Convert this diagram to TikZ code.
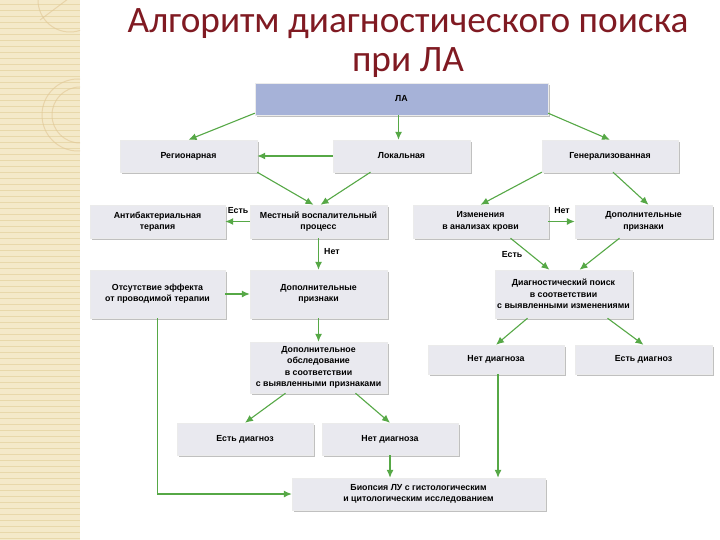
\documentclass[tikz,border=0pt]{standalone}
\usepackage{fontspec}
\setmainfont{Liberation Sans}
\newfontfamily\titlefont{Carlito}
\usetikzlibrary{shadows,calc,arrows.meta}
\definecolor{arrowgreen}{RGB}{86,168,70}
\definecolor{boxgray}{RGB}{233,233,239}
\definecolor{topblue}{RGB}{166,178,216}
\definecolor{titlered}{RGB}{128,26,34}
\definecolor{stripbeige}{RGB}{244,233,201}
\definecolor{stripline}{RGB}{232,216,170}
\tikzset{
  box/.style={rectangle, fill=boxgray, draw=black!8, line width=0.4pt, align=center, inner sep=1pt,
    font=\bfseries\fontsize{8.8}{11.3}\selectfont,
    drop shadow={shadow xshift=1.8pt, shadow yshift=-1.8pt, fill=black!35, opacity=0.7}},
  arr/.style={draw=arrowgreen, line width=1.1pt, -{Latex[length=8pt,width=7pt]}},
  lbl/.style={font=\bfseries\fontsize{8.8}{11}\selectfont, inner sep=0pt},
}
\begin{document}
\begin{tikzpicture}[x=1pt,y=-1pt]
\useasboundingbox (0,0) rectangle (720,540);
\fill[white] (0,0) rectangle (720,540);
% left decorative strip
\fill[stripbeige] (0,0) rectangle (80,540);
\begin{scope}
\clip (0,0) rectangle (80,540);
\foreach \yy in {4,10,...,540} {\draw[stripline, line width=0.6pt] (0,\yy) -- (80,\yy);}
\draw[stripline!80!brown, line width=1pt, opacity=0.6] (78,115) circle (36);
\draw[stripline!80!brown, line width=1pt, opacity=0.6] (80,115) circle (28);
\draw[stripline!80!brown, line width=1pt, opacity=0.6] (70,0) circle (32);
\draw[stripline!80!brown, line width=1pt, opacity=0.6] (40,20) -- (80,-10);
\end{scope}
% title
\node[anchor=base, text=titlered, font=\titlefont\fontsize{37.3}{40}\selectfont, inner sep=0pt] (t1) at (408,33) {Алгоритм диагностического поиска};
\node[anchor=base, text=titlered, font=\titlefont\fontsize{37.3}{40}\selectfont, inner sep=0pt] (t2) at (408,72) {при ЛА};
% boxes
\node[box, fill=topblue, minimum width=293, minimum height=32] (la) at (401.5,99) {ЛА};
\node[box, minimum width=137, minimum height=32] (reg) at (188.5,156) {Регионарная};
\node[box, minimum width=137, minimum height=32] (lok) at (401.5,156) {Локальная};
\node[box, minimum width=136, minimum height=32] (gen) at (610,156) {Генерализованная};
\node[box, minimum width=135, minimum height=33] (anti) at (157.5,221.5) {Антибактериальная\\терапия};
\node[box, minimum width=137, minimum height=33] (mest) at (318.5,221.5) {Местный воспалительный\\процесс};
\node[box, minimum width=135, minimum height=33] (izm) at (480.5,221.5) {Изменения\\в анализах крови};
\node[box, minimum width=137, minimum height=33] (dopR) at (643.5,221.5) {Дополнительные\\признаки};
\node[box, minimum width=135, minimum height=48] (ots) at (157.5,294) {Отсутствие эффекта\\от проводимой терапии};
\node[box, minimum width=137, minimum height=48] (dopC) at (318.5,294) {Дополнительные\\признаки};
\node[box, minimum width=137, minimum height=48] (diag) at (563.5,294) {Диагностический поиск\\в соответствии\\с выявленными изменениями};
\node[box, minimum width=137, minimum height=51] (obs) at (318.5,367.5) {Дополнительное\\обследование\\в соответствии\\с выявленными признаками};
\node[box, minimum width=136, minimum height=29] (netR) at (496,359.5) {Нет диагноза};
\node[box, minimum width=137, minimum height=29] (estR) at (643.5,359.5) {Есть диагноз};
\node[box, minimum width=136, minimum height=32] (estL) at (245,439) {Есть диагноз};
\node[box, minimum width=136, minimum height=32] (netC) at (390,439) {Нет диагноза};
\node[box, minimum width=253, minimum height=32] (bio) at (418.5,494) {Биопсия ЛУ с гистологическим\\и цитологическим исследованием};
% connectors
\draw[arr] ([yshift=2pt]la.south west) -- (reg.north);
\draw[arr] ([xshift=-3pt]la.south) -- ([xshift=-3pt]lok.north);
\draw[arr] ([yshift=2pt]la.south east) -- (gen.north);
\draw[arr] (lok.west) -- (reg.east);
\draw[arr] (reg.south east) -- ([xshift=-5pt]mest.north);
\draw[arr] ([xshift=-31pt]lok.south) -- ([xshift=2pt]mest.north);
\draw[arr] (mest.west) -- (anti.east);
\node[lbl] (l1) at (238,211) {Есть};
\draw[arr] (mest.south) -- (dopC.north);
\node[lbl, anchor=west] (l2) at (324,252) {Нет};
\draw[arr] (gen.south west) -- (izm.north);
\draw[arr] ([xshift=3pt]gen.south) -- ([xshift=5pt]dopR.north);
\draw[arr] (izm.east) -- (dopR.west);
\node[lbl] (l3) at (562,211) {Нет};
\draw[arr] ([xshift=30pt]izm.south) -- ([xshift=-14pt]diag.north);
\node[lbl] (l4) at (512,255) {Есть};
\draw[arr] ([xshift=-24pt]dopR.south) -- ([xshift=16pt]diag.north);
\draw[arr] (ots.east) -- (dopC.west);
\draw[arr] (dopC.south) -- (obs.north);
\draw[arr] ([xshift=-36pt]diag.south) -- (netR.north);
\draw[arr] ([xshift=44pt]diag.south) -- (estR.north);
\draw[arr] ([xshift=-33pt]obs.south) -- (estL.north);
\draw[arr] ([xshift=37pt]obs.south) -- (netC.north);
\draw[arr] (netC.south) -- (netC.south |- bio.north);
\draw[arr] ([xshift=2pt]netR.south) -- ([xshift=2pt]netR.south |- bio.north);
\draw[arr] (ots.south) -- (ots.south |- bio.west) -- (bio.west);
\end{tikzpicture}
\end{document}
